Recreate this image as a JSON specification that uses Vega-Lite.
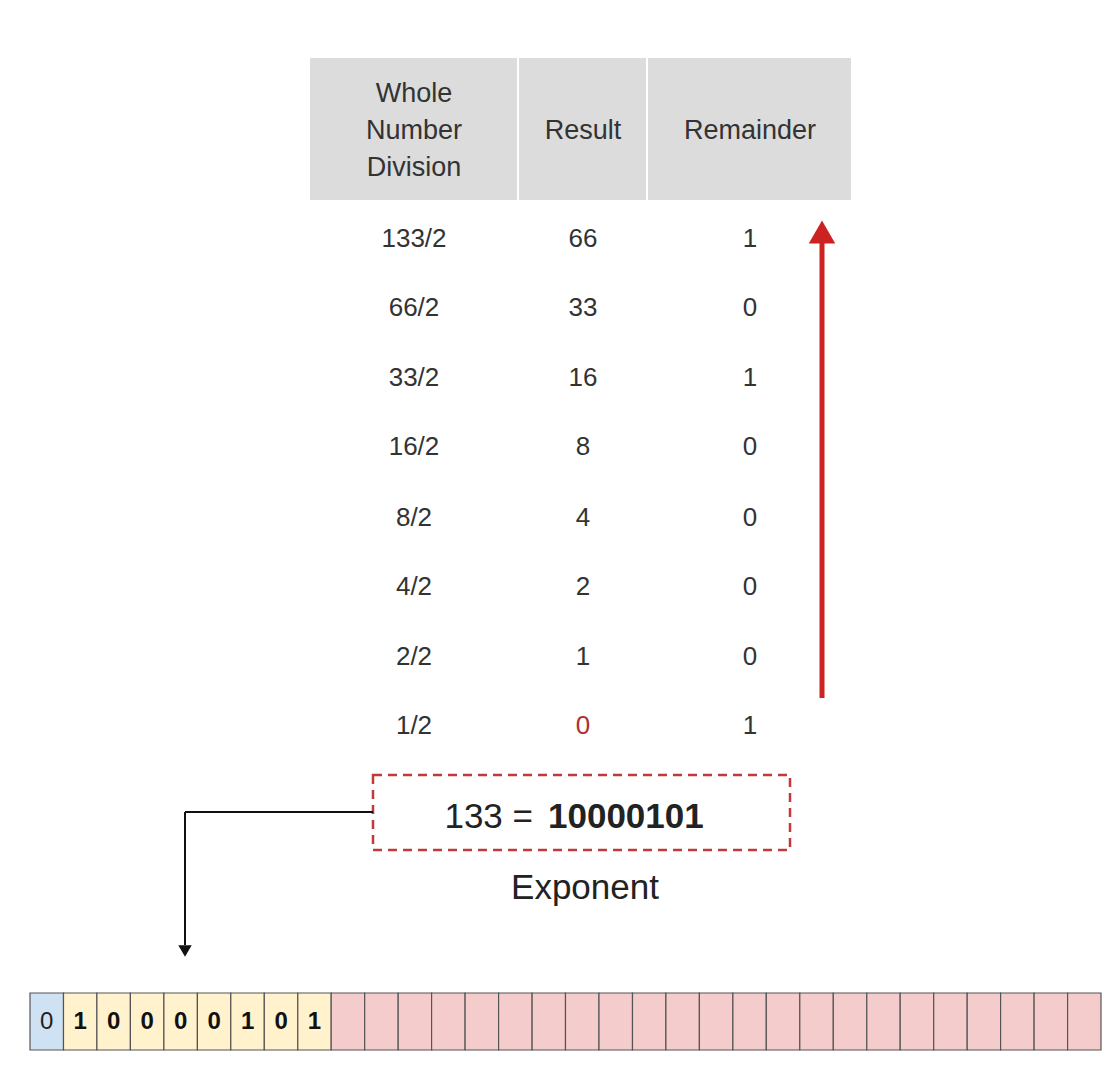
{
  "$schema": "https://vega.github.io/schema/vega-lite/v6.json",
  "width": 1116,
  "height": 1092,
  "padding": 0,
  "autosize": "none",
  "background": "white",
  "config": {"view": {"stroke": null}, "font": "Liberation Sans"},
  "encoding": {
    "x": {"type": "quantitative", "scale": {"domain": [0, 1116]}, "axis": null},
    "y": {"type": "quantitative", "scale": {"domain": [0, 1092], "reverse": true}, "axis": null}
  },
  "layer": [
    {
      "data": {"values": [{"x": 310, "x2": 851, "y": 58, "y2": 200}]},
      "mark": {"type": "rect", "fill": "#dcdcdc"},
      "encoding": {"x": {"field": "x"}, "x2": {"field": "x2"}, "y": {"field": "y"}, "y2": {"field": "y2"}}
    },
    {
      "data": {"values": [{"x": 518, "y": 58, "y2": 200}, {"x": 647, "y": 58, "y2": 200}]},
      "mark": {"type": "rule", "stroke": "white", "strokeWidth": 2},
      "encoding": {"x": {"field": "x"}, "y": {"field": "y"}, "y2": {"field": "y2"}}
    },
    {
      "data": {"values": [
        {"x": 414, "y": 94, "t": "Whole"}, {"x": 414, "y": 131, "t": "Number"}, {"x": 414, "y": 168, "t": "Division"},
        {"x": 583, "y": 131, "t": "Result"}, {"x": 750, "y": 131, "t": "Remainder"}
      ]},
      "mark": {"type": "text", "fontSize": 27, "color": "#333", "baseline": "middle", "align": "center"},
      "encoding": {"x": {"field": "x"}, "y": {"field": "y"}, "text": {"field": "t"}}
    },
    {
      "data": {"values": [
        {"y": 239, "div": "133/2", "res": "66", "rem": "1", "hl": false},
        {"y": 308, "div": "66/2", "res": "33", "rem": "0", "hl": false},
        {"y": 378, "div": "33/2", "res": "16", "rem": "1", "hl": false},
        {"y": 447, "div": "16/2", "res": "8", "rem": "0", "hl": false},
        {"y": 518, "div": "8/2", "res": "4", "rem": "0", "hl": false},
        {"y": 587, "div": "4/2", "res": "2", "rem": "0", "hl": false},
        {"y": 657, "div": "2/2", "res": "1", "rem": "0", "hl": false},
        {"y": 726, "div": "1/2", "res": "0", "rem": "1", "hl": true}
      ]},
      "layer": [
        {
          "mark": {"type": "text", "fontSize": 26, "color": "#333", "baseline": "middle"},
          "encoding": {"x": {"datum": 414}, "y": {"field": "y"}, "text": {"field": "div"}}
        },
        {
          "mark": {"type": "text", "fontSize": 26, "baseline": "middle"},
          "encoding": {"x": {"datum": 583}, "y": {"field": "y"}, "text": {"field": "res"},
            "color": {"condition": {"test": "datum.hl", "value": "#b03030"}, "value": "#333"}}
        },
        {
          "mark": {"type": "text", "fontSize": 26, "color": "#333", "baseline": "middle"},
          "encoding": {"x": {"datum": 750}, "y": {"field": "y"}, "text": {"field": "rem"}}
        }
      ]
    },
    {
      "data": {"values": [{"x": 822, "y": 698, "y2": 236}]},
      "mark": {"type": "rule", "stroke": "#cc2222", "strokeWidth": 5},
      "encoding": {"x": {"field": "x"}, "y": {"field": "y"}, "y2": {"field": "y2"}}
    },
    {
      "data": {"values": [{"x": 822, "y": 232}]},
      "mark": {"type": "point", "shape": "triangle-up", "filled": true, "color": "#cc2222", "size": 700, "opacity": 1},
      "encoding": {"x": {"field": "x"}, "y": {"field": "y"}}
    },
    {
      "data": {"values": [{"x": 373, "x2": 790, "y": 775, "y2": 850}]},
      "mark": {"type": "rect", "fill": "white", "stroke": "#c0393b", "strokeWidth": 2.5, "strokeDash": [9, 6]},
      "encoding": {"x": {"field": "x"}, "x2": {"field": "x2"}, "y": {"field": "y"}, "y2": {"field": "y2"}}
    },
    {
      "data": {"values": [{"x": 533, "y": 817, "t": "133 ="}]},
      "mark": {"type": "text", "fontSize": 35, "color": "#222", "align": "right", "baseline": "middle"},
      "encoding": {"x": {"field": "x"}, "y": {"field": "y"}, "text": {"field": "t"}}
    },
    {
      "data": {"values": [{"x": 548, "y": 817, "t": "10000101"}]},
      "mark": {"type": "text", "fontSize": 35, "fontWeight": "bold", "color": "#222", "align": "left", "baseline": "middle"},
      "encoding": {"x": {"field": "x"}, "y": {"field": "y"}, "text": {"field": "t"}}
    },
    {
      "data": {"values": [{"x": 585, "y": 888, "t": "Exponent"}]},
      "mark": {"type": "text", "fontSize": 35, "color": "#222", "baseline": "middle"},
      "encoding": {"x": {"field": "x"}, "y": {"field": "y"}, "text": {"field": "t"}}
    },
    {
      "data": {"values": [{"x": 373, "y": 812, "x2": 185, "y2": 812}, {"x": 185, "y": 812, "x2": 185, "y2": 945}]},
      "mark": {"type": "rule", "stroke": "#111", "strokeWidth": 2},
      "encoding": {"x": {"field": "x"}, "x2": {"field": "x2"}, "y": {"field": "y"}, "y2": {"field": "y2"}}
    },
    {
      "data": {"values": [{"x": 185, "y": 951}]},
      "mark": {"type": "point", "shape": "triangle-down", "filled": true, "color": "#111", "size": 180, "opacity": 1},
      "encoding": {"x": {"field": "x"}, "y": {"field": "y"}}
    },
    {
      "data": {"values": [
        {"x": 30, "x2": 63.5, "kind": "sign", "bit": "0"},
        {"x": 63.5, "x2": 96.9, "kind": "exp", "bit": "1"},
        {"x": 96.9, "x2": 130.4, "kind": "exp", "bit": "0"},
        {"x": 130.4, "x2": 163.9, "kind": "exp", "bit": "0"},
        {"x": 163.9, "x2": 197.4, "kind": "exp", "bit": "0"},
        {"x": 197.4, "x2": 230.8, "kind": "exp", "bit": "0"},
        {"x": 230.8, "x2": 264.3, "kind": "exp", "bit": "1"},
        {"x": 264.3, "x2": 297.8, "kind": "exp", "bit": "0"},
        {"x": 297.8, "x2": 331.2, "kind": "exp", "bit": "1"},
        {"x": 331.2, "x2": 364.7, "kind": "man", "bit": ""},
        {"x": 364.7, "x2": 398.2, "kind": "man", "bit": ""},
        {"x": 398.2, "x2": 431.6, "kind": "man", "bit": ""},
        {"x": 431.6, "x2": 465.1, "kind": "man", "bit": ""},
        {"x": 465.1, "x2": 498.6, "kind": "man", "bit": ""},
        {"x": 498.6, "x2": 532.1, "kind": "man", "bit": ""},
        {"x": 532.1, "x2": 565.5, "kind": "man", "bit": ""},
        {"x": 565.5, "x2": 599, "kind": "man", "bit": ""},
        {"x": 599, "x2": 632.5, "kind": "man", "bit": ""},
        {"x": 632.5, "x2": 665.9, "kind": "man", "bit": ""},
        {"x": 665.9, "x2": 699.4, "kind": "man", "bit": ""},
        {"x": 699.4, "x2": 732.9, "kind": "man", "bit": ""},
        {"x": 732.9, "x2": 766.3, "kind": "man", "bit": ""},
        {"x": 766.3, "x2": 799.8, "kind": "man", "bit": ""},
        {"x": 799.8, "x2": 833.3, "kind": "man", "bit": ""},
        {"x": 833.3, "x2": 866.8, "kind": "man", "bit": ""},
        {"x": 866.8, "x2": 900.2, "kind": "man", "bit": ""},
        {"x": 900.2, "x2": 933.7, "kind": "man", "bit": ""},
        {"x": 933.7, "x2": 967.2, "kind": "man", "bit": ""},
        {"x": 967.2, "x2": 1000.6, "kind": "man", "bit": ""},
        {"x": 1000.6, "x2": 1034.1, "kind": "man", "bit": ""},
        {"x": 1034.1, "x2": 1067.6, "kind": "man", "bit": ""},
        {"x": 1067.6, "x2": 1101, "kind": "man", "bit": ""}
      ]},
      "layer": [
        {
          "mark": {"type": "rect", "stroke": "#555", "strokeWidth": 1.2},
          "encoding": {
            "x": {"field": "x"}, "x2": {"field": "x2"}, "y": {"datum": 993}, "y2": {"datum": 1050},
            "fill": {"field": "kind", "type": "nominal", "legend": null,
              "scale": {"domain": ["sign", "exp", "man"], "range": ["#cfe2f3", "#fff2cc", "#f4cccc"]}}
          }
        },
        {
          "transform": [{"filter": "datum.kind == 'sign'"}, {"calculate": "(datum.x + datum.x2) / 2", "as": "cx"}],
          "mark": {"type": "text", "fontSize": 24, "color": "#222", "baseline": "middle"},
          "encoding": {"x": {"field": "cx"}, "y": {"datum": 1022}, "text": {"field": "bit"}}
        },
        {
          "transform": [{"filter": "datum.kind == 'exp'"}, {"calculate": "(datum.x + datum.x2) / 2", "as": "cx"}],
          "mark": {"type": "text", "fontSize": 24, "fontWeight": "bold", "color": "#111", "baseline": "middle"},
          "encoding": {"x": {"field": "cx"}, "y": {"datum": 1022}, "text": {"field": "bit"}}
        }
      ]
    }
  ]
}
